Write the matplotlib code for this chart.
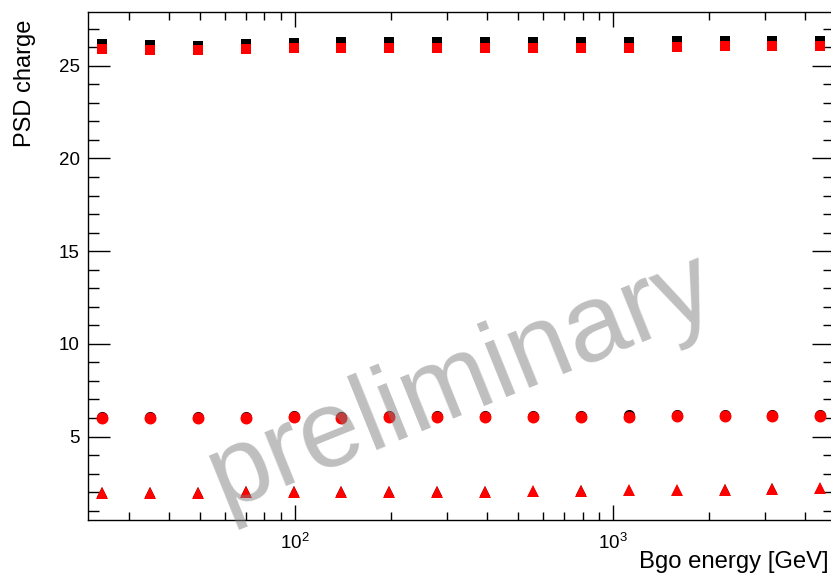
import matplotlib
matplotlib.use('Agg')
import matplotlib.pyplot as plt
from matplotlib.ticker import LogLocator, NullFormatter, MultipleLocator

# ---------------- data ---------------- #

energy = [24.7, 34.9, 49.4, 69.9, 98.8, 139.7, 197.6, 279.5,
          395.3, 559.0, 790.6, 1118.0, 1581.1, 2236.1, 3162.3, 4472.1]

sq_black = [26.16, 26.11, 26.09, 26.16, 26.24, 26.27, 26.30, 26.30,
            26.30, 26.30, 26.30, 26.30, 26.32, 26.34, 26.36, 26.36]
sq_red = [25.89, 25.83, 25.83, 25.89, 25.97, 25.97, 25.98, 25.98,
          25.98, 25.98, 25.98, 25.98, 26.02, 26.05, 26.05, 26.07]

circ_black = [6.05, 6.04, 6.04, 6.05, 6.10, 6.08, 6.09, 6.10,
              6.12, 6.13, 6.13, 6.14, 6.15, 6.16, 6.16, 6.18]
circ_red = [5.98, 5.98, 5.98, 5.99, 6.05, 6.02, 6.03, 6.05,
            6.06, 6.07, 6.07, 6.08, 6.09, 6.10, 6.10, 6.12]

tri_black = [2.02, 2.01, 2.02, 2.04, 2.04, 2.04, 2.06, 2.06,
             2.07, 2.09, 2.12, 2.14, 2.14, 2.16, 2.20, 2.24]
tri_red = [1.98, 1.97, 1.98, 1.99, 2.00, 2.00, 2.02, 2.02,
           2.03, 2.05, 2.08, 2.10, 2.10, 2.12, 2.15, 2.20]

# ---------------- style ---------------- #

plt.rcParams['font.family'] = ['Liberation Sans', 'DejaVu Sans']
plt.rcParams['mathtext.fontset'] = 'custom'
plt.rcParams['mathtext.rm'] = 'Liberation Sans'

fig = plt.figure(figsize=(8.31, 5.75), dpi=100)
ax = fig.add_axes([88 / 831, 1 - 520 / 575, (834 - 88) / 831, (520 - 12) / 575])

# ---------------- markers ---------------- #
# black ones a touch smaller so they only peek out where offset

ax.plot(energy, sq_black, 's', color='black', ms=7.2, mew=0)
ax.plot(energy, sq_red, 's', color='red', ms=7.4, mew=0)
ax.plot(energy, circ_black, 'o', color='black', ms=8.0, mew=0)
ax.plot(energy, circ_red, 'o', color='red', ms=8.6, mew=0)
ax.plot(energy, tri_black, '^', color='black', ms=7.4, mew=0)
ax.plot(energy, tri_red, '^', color='red', ms=8.0, mew=0)

# ---------------- axes ---------------- #

ax.set_xscale('log')
ax.set_xlim(22.3, 4940)
ax.set_ylim(0.5, 27.9)

ax.xaxis.set_major_locator(LogLocator(base=10))
ax.xaxis.set_minor_locator(LogLocator(base=10, subs=range(2, 10)))
ax.xaxis.set_minor_formatter(NullFormatter())
ax.yaxis.set_major_locator(MultipleLocator(5))
ax.yaxis.set_minor_locator(MultipleLocator(1))

ax.tick_params(which='both', direction='in', top=True, right=True,
               colors='black', width=1.0, labelsize=13.5)
ax.tick_params(axis='y', which='major', length=16, pad=6)
ax.tick_params(axis='y', which='minor', length=8)
ax.tick_params(axis='x', which='major', length=11, pad=9)
ax.tick_params(axis='x', which='minor', length=6)
for sp in ax.spines.values():
    sp.set_linewidth(1.0)

# ROOT style titles at the ends of the axes
fig.text(829 / 831, 1 - 568 / 575, 'Bgo energy [GeV]', fontsize=17.2,
         ha='right', va='baseline')
fig.text(25 / 831, 1 - 20 / 575, 'PSD charge', fontsize=17,
         rotation=90, ha='center', va='top')

# ---------------- watermark ---------------- #

fig.text(462 / 831, 1 - 382 / 575, 'preliminary', fontsize=79,
         color='#808080', alpha=0.5, rotation=22, rotation_mode='anchor',
         ha='center', va='center', zorder=10)

fig.savefig('out.png', dpi=100)
